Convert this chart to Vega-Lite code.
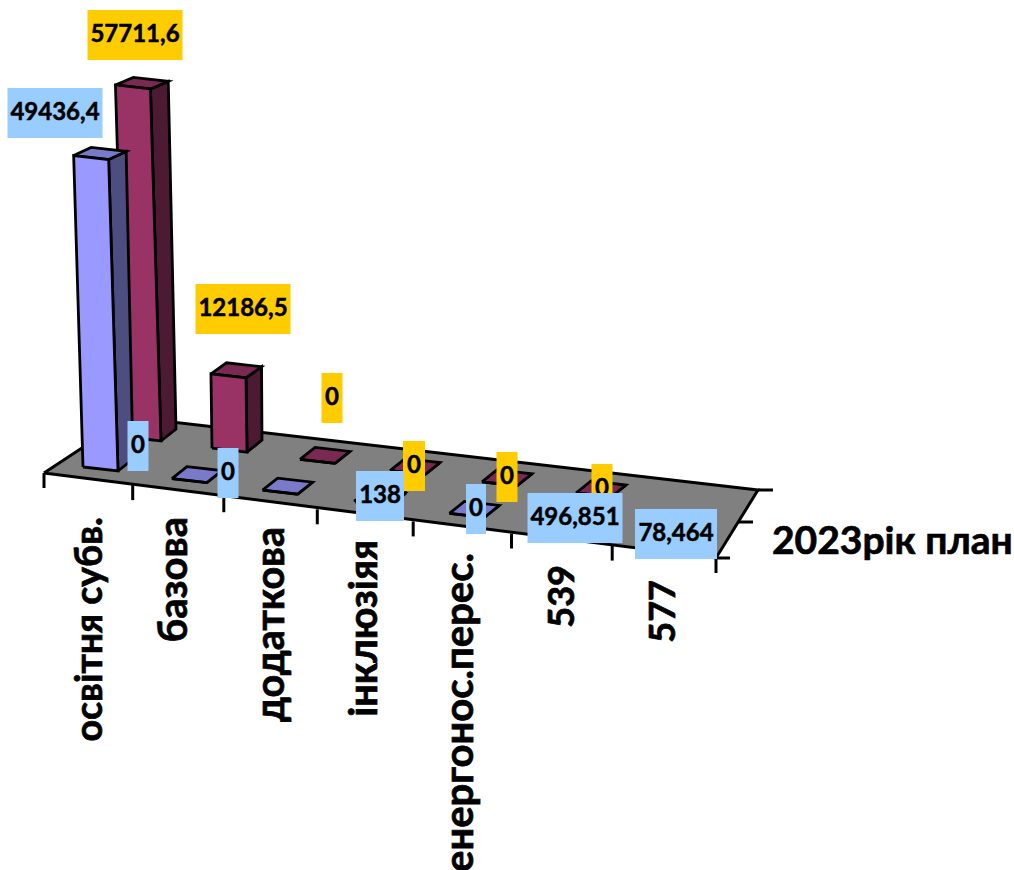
{
"$schema":"https://vega.github.io/schema/vega-lite/v6.json",
"width":1014,"height":870,"padding":0,"autosize":{"type":"none"},"background":"white",
"config":{"view":{"stroke":null},"font":"Lato"},
"datasets":{
"bars":[
{"category":"освітня субв.","series":"2023рік план","value":49436.4,"label":"49436,4"},
{"category":"базова","series":"2023рік план","value":0,"label":"0"},
{"category":"додаткова","series":"2023рік план","value":0,"label":"0"},
{"category":"інклюзіяя","series":"2023рік план","value":138,"label":"138"},
{"category":"енергонос.перес.","series":"2023рік план","value":0,"label":"0"},
{"category":"539","series":"2023рік план","value":496.851,"label":"496,851"},
{"category":"577","series":"2023рік план","value":78.464,"label":"78,464"},
{"category":"освітня субв.","series":"ряд 2","value":57711.6,"label":"57711,6"},
{"category":"базова","series":"ряд 2","value":12186.5,"label":"12186,5"},
{"category":"додаткова","series":"ряд 2","value":0,"label":"0"},
{"category":"інклюзіяя","series":"ряд 2","value":0,"label":"0"},
{"category":"енергонос.перес.","series":"ряд 2","value":0,"label":"0"},
{"category":"539","series":"ряд 2","value":0,"label":"0"}
],
"cats":[{"category":"освітня субв."},{"category":"базова"},{"category":"додаткова"},{"category":"інклюзіяя"},{"category":"енергонос.перес."},{"category":"539"},{"category":"577"}]
},
"layer":[
{"data":{"values":[{"surface":"floor"}]},
"transform":[
{"calculate":"[44,129,758,716,44]","as":"vx"},{"calculate":"[473,417,490,558,473]","as":"vy"},{"calculate":"[0,1,2,3,4]","as":"k"},{"flatten":["vx","vy","k"]}],
"mark":{"type":"line","fill":"#808080","stroke":"black","strokeWidth":3,"strokeJoin":"miter"},
"encoding":{"x":{"field":"vx","type":"quantitative","scale":{"domain":[0,1014],"nice":false,"zero":false},"axis":null},"y":{"field":"vy","type":"quantitative","scale":{"domain":[870,0],"nice":false,"zero":false},"axis":null},"order":{"field":"k"}}},
{"data":{"name":"cats"},
"transform":[{"window":[{"op":"row_number","as":"n"}]},{"calculate":"44+87.5*(datum.n-1)+1.2*(datum.n-1)*(datum.n-1)","as":"tx"},{"calculate":"473+12.1*(datum.n-1)","as":"ty"},{"calculate":"datum.ty+15","as":"ty2"}],
"mark":{"type":"rule","stroke":"black","strokeWidth":3},
"encoding":{"x":{"field":"tx","type":"quantitative"},"y":{"field":"ty","type":"quantitative"},"y2":{"field":"ty2"}}},
{"data":{"values":[{"tx":716,"ty":558}]},"transform":[{"calculate":"datum.ty+15","as":"ty2"}],
"mark":{"type":"rule","stroke":"black","strokeWidth":3},
"encoding":{"x":{"field":"tx","type":"quantitative"},"y":{"field":"ty","type":"quantitative"},"y2":{"field":"ty2"}}},
{"data":{"values":[{"tx":758,"ty":490},{"tx":738,"ty":522},{"tx":715,"ty":558}]},"transform":[{"calculate":"datum.tx+15","as":"tx2"}],
"mark":{"type":"rule","stroke":"black","strokeWidth":3},
"encoding":{"x":{"field":"tx","type":"quantitative"},"x2":{"field":"tx2"},"y":{"field":"ty","type":"quantitative"}}},
{"data":{"name":"cats"},
"transform":[{"calculate":"indexof(['освітня субв.','базова','додаткова','інклюзіяя','енергонос.перес.','539','577'],datum.category)","as":"i"},
{"calculate":"[91,175,272,365,461,563,664][datum.i]","as":"lx"},{"calculate":"[517,517,527,540,553,565,580][datum.i]","as":"ly"},{"calculate":"[37.5,40,39.5,39.5,40,36,36][datum.i]","as":"fs"}],
"mark":{"type":"text","angle":270,"align":"right","baseline":"middle","fontWeight":"bold","font":"Lato","color":"black","stroke":"black","strokeWidth":0.7},
"encoding":{"x":{"field":"lx","type":"quantitative"},"y":{"field":"ly","type":"quantitative"},"text":{"field":"category"},"size":{"field":"fs","type":"quantitative","scale":null}}},
{"data":{"values":[{"t":"2023рік план","x":772,"y":542}]},
"mark":{"type":"text","align":"left","baseline":"middle","fontSize":39,"fontWeight":"bold","font":"Lato","color":"black","stroke":"black","strokeWidth":0.7},
"encoding":{"x":{"field":"x","type":"quantitative"},"y":{"field":"y","type":"quantitative"},"text":{"field":"t"}}},
{"data":{"name":"bars"},
"transform":[
{"calculate":"indexof(['освітня субв.','базова','додаткова','інклюзіяя','енергонос.перес.','539','577'],datum.category)","as":"i"},
{"calculate":"datum.series=='2023рік план'?0:1","as":"s"},
{"calculate":"datum.s==0?83+88*datum.i+0.9*datum.i*datum.i:126+85*datum.i+datum.i*datum.i","as":"xb"},
{"calculate":"datum.s==0?467+11.6*datum.i:437+11.2*datum.i","as":"yb"},
{"calculate":"datum.value*(datum.s==0?0.0063:0.0061)","as":"h"},
{"calculate":"datum.h*max(0,0.03-0.016*datum.i)","as":"lean"},
{"calculate":"15+datum.h*0.008","as":"dxt"},
{"calculate":"-12+datum.h*0.0125","as":"dyt"},
{"calculate":"[0,1,2,3,4]","as":"k"},
{"fold":["front","side","top"],"as":["face","unused"]},
{"calculate":"datum.face=='front'?[datum.xb,datum.xb+35,datum.xb+35-datum.lean,datum.xb-datum.lean,datum.xb]:datum.face=='side'?[datum.xb+35,datum.xb+50,datum.xb+35-datum.lean+datum.dxt,datum.xb+35-datum.lean,datum.xb+35]:[datum.xb-datum.lean,datum.xb+35-datum.lean,datum.xb+35-datum.lean+datum.dxt,datum.xb-datum.lean+datum.dxt,datum.xb-datum.lean]","as":"vx"},
{"calculate":"datum.face=='front'?[datum.yb,datum.yb+4,datum.yb+4-datum.h,datum.yb-datum.h,datum.yb]:datum.face=='side'?[datum.yb+4,datum.yb-8,datum.yb+4-datum.h+datum.dyt,datum.yb+4-datum.h,datum.yb+4]:[datum.yb-datum.h,datum.yb+4-datum.h,datum.yb+4-datum.h+datum.dyt,datum.yb-datum.h+datum.dyt,datum.yb-datum.h]","as":"vy"},
{"flatten":["vx","vy","k"]}
],
"layer":[
{"transform":[{"filter":"datum.s==1&&datum.face=='side'"}],"mark":{"type":"line","fill":"#4D1A33","stroke":"black","strokeWidth":2.8,"strokeJoin":"miter"},"encoding":{"x":{"field":"vx","type":"quantitative"},"y":{"field":"vy","type":"quantitative"},"order":{"field":"k"},"detail":{"field":"category"}}},
{"transform":[{"filter":"datum.s==1&&datum.face=='top'"}],"mark":{"type":"line","fill":"#7A2952","stroke":"black","strokeWidth":2.8,"strokeJoin":"miter"},"encoding":{"x":{"field":"vx","type":"quantitative"},"y":{"field":"vy","type":"quantitative"},"order":{"field":"k"},"detail":{"field":"category"}}},
{"transform":[{"filter":"datum.s==1&&datum.face=='front'"}],"mark":{"type":"line","fill":"#993366","stroke":"black","strokeWidth":2.8,"strokeJoin":"miter"},"encoding":{"x":{"field":"vx","type":"quantitative"},"y":{"field":"vy","type":"quantitative"},"order":{"field":"k"},"detail":{"field":"category"}}},
{"transform":[{"filter":"datum.s==0&&datum.face=='side'"}],"mark":{"type":"line","fill":"#4D4D80","stroke":"black","strokeWidth":2.8,"strokeJoin":"miter"},"encoding":{"x":{"field":"vx","type":"quantitative"},"y":{"field":"vy","type":"quantitative"},"order":{"field":"k"},"detail":{"field":"category"}}},
{"transform":[{"filter":"datum.s==0&&datum.face=='top'"}],"mark":{"type":"line","fill":"#7A7ACC","stroke":"black","strokeWidth":2.8,"strokeJoin":"miter"},"encoding":{"x":{"field":"vx","type":"quantitative"},"y":{"field":"vy","type":"quantitative"},"order":{"field":"k"},"detail":{"field":"category"}}},
{"transform":[{"filter":"datum.s==0&&datum.face=='front'"}],"mark":{"type":"line","fill":"#9999FF","stroke":"black","strokeWidth":2.8,"strokeJoin":"miter"},"encoding":{"x":{"field":"vx","type":"quantitative"},"y":{"field":"vy","type":"quantitative"},"order":{"field":"k"},"detail":{"field":"category"}}}
]},
{"data":{"name":"bars"},
"transform":[
{"calculate":"indexof(['освітня субв.','базова','додаткова','інклюзіяя','енергонос.перес.','539','577'],datum.category)","as":"i"},
{"calculate":"datum.series=='2023рік план'?0:1","as":"s"},
{"calculate":"datum.s==0?[55,138,228,380,476,575,676][datum.i]:[135,243,332,414,507,602,0][datum.i]","as":"cx"},
{"calculate":"datum.s==0?[113,446,473,496,509,518,534][datum.i]:[35,309,398,466,477,489,0][datum.i]","as":"cy"},
{"calculate":"datum.s==0?[95,21,21,48,20,95,82][datum.i]:[95,95,21,22,21,21,0][datum.i]","as":"bw"},
{"calculate":"datum.cx-datum.bw/2","as":"x1"},{"calculate":"datum.cx+datum.bw/2","as":"x2"},
{"calculate":"datum.cy-25","as":"y1"},{"calculate":"datum.cy+25","as":"y2"}
],
"layer":[
{"transform":[{"filter":"datum.s==1"}],"mark":{"type":"rect","fill":"#FFCC00"},"encoding":{"x":{"field":"x1","type":"quantitative"},"x2":{"field":"x2"},"y":{"field":"y1","type":"quantitative"},"y2":{"field":"y2"}}},
{"transform":[{"filter":"datum.s==1"}],"mark":{"type":"text","fontSize":24,"fontWeight":"bold","font":"Lato","color":"black","stroke":"black","strokeWidth":0.5},"encoding":{"x":{"field":"cx","type":"quantitative"},"y":{"field":"cy","type":"quantitative"},"text":{"field":"label"}}},
{"transform":[{"filter":"datum.s==0"}],"mark":{"type":"rect","fill":"#99CCFF"},"encoding":{"x":{"field":"x1","type":"quantitative"},"x2":{"field":"x2"},"y":{"field":"y1","type":"quantitative"},"y2":{"field":"y2"}}},
{"transform":[{"filter":"datum.s==0"}],"mark":{"type":"text","fontSize":24,"fontWeight":"bold","font":"Lato","color":"black","stroke":"black","strokeWidth":0.5},"encoding":{"x":{"field":"cx","type":"quantitative"},"y":{"field":"cy","type":"quantitative"},"text":{"field":"label"}}}
]}
]
}
